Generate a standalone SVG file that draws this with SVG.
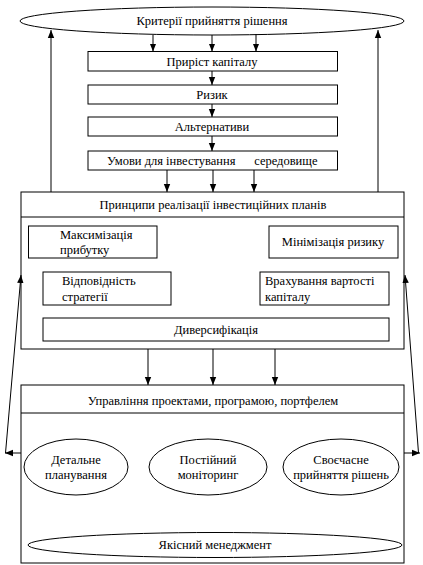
<svg xmlns="http://www.w3.org/2000/svg" width="423" height="565" viewBox="0 0 423 565">
<style>
.s{fill:#fff;stroke:#000;stroke-width:1}
.t{font-family:"Liberation Serif","Times New Roman",serif;font-size:12.5px;fill:#000}
.c{text-anchor:middle}
.l{fill:none;stroke:#000;stroke-width:1}
</style>
<defs>
<marker id="a" viewBox="0 0 8 8" refX="8" refY="4" markerWidth="8" markerHeight="8" markerUnits="userSpaceOnUse" orient="auto">
<path d="M0,0.8 L8,4 L0,7.2 Z" fill="#000"/>
</marker>
</defs>
<rect width="423" height="565" fill="#fff"/>
<g id="criteria"><ellipse class="s" cx="212" cy="21" rx="192" ry="14"/><text class="t c" x="212" y="25">Критерії прийняття рішення</text></g>
<g id="capital"><rect class="s" x="88" y="51.5" width="249.5" height="19.5"/><text class="t c" x="212" y="65.5">Приріст капіталу</text></g>
<g id="risk"><rect class="s" x="88" y="85" width="249.5" height="19"/><text class="t c" x="212" y="99">Ризик</text></g>
<g id="alt"><rect class="s" x="88" y="117" width="249.5" height="19"/><text class="t c" x="212" y="131">Альтернативи</text></g>
<g id="cond"><rect class="s" x="88" y="151" width="249.5" height="19"/><text class="t" x="107" y="165" xml:space="preserve">Умови для інвестування      середовище</text></g>
<g id="principles"><rect class="s" x="21" y="192" width="383" height="157"/><line class="l" x1="21" y1="217" x2="404" y2="217"/><text class="t c" x="213" y="209">Принципи реалізації інвестиційних планів</text></g>
<g id="maxprofit"><rect class="s" x="28.5" y="226" width="128.5" height="32"/><text class="t" x="60" y="239">Максимізація</text><text class="t" x="60" y="254">прибутку</text></g>
<g id="minrisk"><rect class="s" x="269" y="226" width="129" height="32"/><text class="t c" x="333" y="246">Мінімізація ризику</text></g>
<g id="strategy"><rect class="s" x="43" y="272" width="128" height="33"/><text class="t" x="62" y="285">Відповідність</text><text class="t" x="62" y="301">стратегії</text></g>
<g id="costcap"><rect class="s" x="260" y="272" width="129" height="33"/><text class="t" x="265" y="285">Врахування вартості</text><text class="t" x="265" y="301">капіталу</text></g>
<g id="divers"><rect class="s" x="43" y="318" width="346" height="23"/><text class="t c" x="216" y="334">Диверсифікація</text></g>
<g id="management"><rect class="s" x="21" y="385" width="383" height="178"/><line class="l" x1="21" y1="413" x2="404" y2="413"/><text class="t c" x="213" y="405">Управління проектами, програмою, портфелем</text></g>
<g id="detail"><ellipse class="s" cx="76" cy="467" rx="52" ry="28"/><text class="t c" x="76" y="464">Детальне</text><text class="t c" x="76" y="479">планування</text></g>
<g id="monitor"><ellipse class="s" cx="208" cy="467" rx="59" ry="28"/><text class="t c" x="208" y="464">Постійний</text><text class="t c" x="208" y="479">моніторинг</text></g>
<g id="timely"><ellipse class="s" cx="341" cy="467" rx="58" ry="28"/><text class="t c" x="341" y="464">Своєчасне</text><text class="t c" x="341" y="479">прийняття рішень</text></g>
<g id="quality"><ellipse class="s" cx="215" cy="545" rx="187" ry="12.5"/><text class="t c" x="215" y="549">Якісний менеджмент</text></g>
<g id="connectors">
<line class="l" x1="153" y1="35" x2="153" y2="51.5" marker-end="url(#a)"/>
<line class="l" x1="212" y1="35" x2="212" y2="51.5" marker-end="url(#a)"/>
<line class="l" x1="256" y1="34" x2="256" y2="51.5" marker-end="url(#a)"/>
<line class="l" x1="212" y1="71" x2="212" y2="85" marker-end="url(#a)"/>
<line class="l" x1="212" y1="104" x2="212" y2="117" marker-end="url(#a)"/>
<line class="l" x1="212" y1="136" x2="212" y2="151" marker-end="url(#a)"/>
<line class="l" x1="167" y1="170" x2="167" y2="192" marker-end="url(#a)"/>
<line class="l" x1="213" y1="170" x2="213" y2="192" marker-end="url(#a)"/>
<line class="l" x1="254" y1="170" x2="254" y2="192" marker-end="url(#a)"/>
<line class="l" x1="51" y1="192" x2="51" y2="30" marker-end="url(#a)"/>
<line class="l" x1="378" y1="192" x2="378" y2="30" marker-end="url(#a)"/>
<line class="l" x1="148" y1="349" x2="148" y2="385" marker-end="url(#a)"/>
<line class="l" x1="213" y1="349" x2="213" y2="385" marker-end="url(#a)"/>
<line class="l" x1="275" y1="349" x2="275" y2="385" marker-end="url(#a)"/>
<line class="l" x1="21" y1="453" x2="5" y2="453" marker-end="url(#a)"/>
<line class="l" x1="5.5" y1="453" x2="21" y2="275" marker-end="url(#a)"/>
<line class="l" x1="404" y1="453" x2="420" y2="453" marker-end="url(#a)"/>
<line class="l" x1="418.5" y1="453" x2="405" y2="275" marker-end="url(#a)"/>
</g>
</svg>
